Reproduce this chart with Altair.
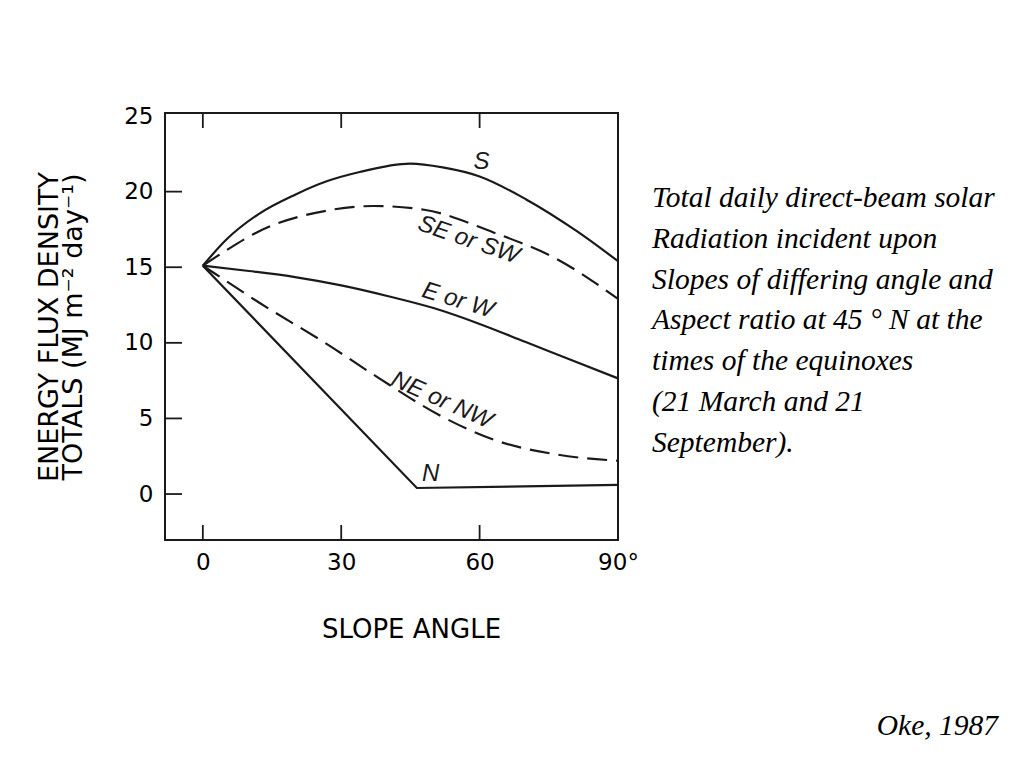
import altair as alt
import pandas as pd

# ---- data ----
slope_S = [0, 5, 12, 20, 27, 34, 45, 52, 60, 70, 81, 90]
flux_S = [15.1, 16.8, 18.5, 19.8, 20.7, 21.3, 21.85, 21.6, 21.0, 19.5, 17.4, 15.4]
slope_SE = [0, 5, 12, 27, 37, 48, 63, 77, 90]
flux_SE = [15.1, 16.1, 17.35, 18.75, 19.05, 18.8, 17.3, 15.5, 12.9]
slope_E = [0, 10, 20, 30, 40, 50, 60, 70, 80, 90]
flux_E = [15.1, 14.75, 14.35, 13.8, 13.1, 12.3, 11.25, 10.05, 8.85, 7.65]
slope_NE = [0, 5, 12, 27, 38, 52, 63, 77, 90]
flux_NE = [15.1, 14.1, 12.7, 9.9, 7.7, 5.1, 3.6, 2.6, 2.2]
slope_N = [0, 46.4, 90]
flux_N = [15.1, 0.4, 0.6]

label_text = ["S", "SE or SW", "E or W", "NE or NW", "N"]
label_x = [60.4, 57.6, 55.3, 51.8, 49.4]
label_y = [21.96, 16.8, 12.8, 6.2, 1.3]
label_angle = [0, 19, 17, 24, 0]

x_ticks = [0, 30, 60, 90]
y_ticks = [0, 5, 10, 15, 20, 25]
inner_x_ticks = [0, 30, 60]
inner_y_ticks = [0, 5, 10, 15, 20]

caption = ("Total daily direct-beam solar\nRadiation incident upon\n"
           "Slopes of differing angle and\nAspect ratio at 45 \u00b0 N at the\n"
           "times of the equinoxes\n(21 March and 21\nSeptember).")
source = "Oke, 1987"

INK = "#1a1a1a"
W, H = 453, 427

xs = alt.Scale(domain=[-8.2, 90], nice=False, zero=False)
ys = alt.Scale(domain=[-3.04, 25.2], nice=False, zero=False)


def series(xv, yv):
    return pd.DataFrame({"slope": xv, "flux": yv})


x_axis = alt.Axis(values=x_ticks, ticks=False, domain=False, grid=False,
                  labelExpr="datum.value == 90 ? '90\u00b0' : datum.label",
                  labelFont="DejaVu Sans", labelFontSize=23, labelColor="black",
                  labelPadding=11, labelFlush=False, title="SLOPE ANGLE",
                  titleFont="DejaVu Sans", titleFontSize=26, titleFontWeight="normal",
                  titleColor="black", titleX=246, titleY=97, titleBaseline="alphabetic",
                  titleAlign="center")
y_axis = alt.Axis(values=y_ticks, ticks=False, domain=False, grid=False,
                  labelFont="DejaVu Sans", labelFontSize=23, labelColor="black",
                  labelPadding=12, labelFlush=False,
                  title=["ENERGY FLUX DENSITY", "TOTALS (MJ m\u207b\u00b2 day\u207b\u00b9)"],
                  titleFont="DejaVu Sans", titleFontSize=27, titleFontWeight="normal",
                  titleColor="black", titleX=-102, titleY=213.5, titleAngle=270,
                  titleBaseline="bottom", titleAlign="center", titleLineHeight=24)

base_x = alt.X("slope:Q", scale=xs, axis=x_axis)
base_y = alt.Y("flux:Q", scale=ys, axis=y_axis)

s_line = alt.Chart(series(slope_S, flux_S)).mark_line(
    interpolate="monotone", color=INK, strokeWidth=2.2).encode(x=base_x, y=base_y)
se_line = alt.Chart(series(slope_SE, flux_SE)).mark_line(
    interpolate="monotone", color=INK, strokeWidth=2.2, strokeDash=[20, 9]).encode(x=base_x, y=base_y)
e_line = alt.Chart(series(slope_E, flux_E)).mark_line(
    interpolate="monotone", color=INK, strokeWidth=2.2).encode(x=base_x, y=base_y)
ne_line = alt.Chart(series(slope_NE, flux_NE)).mark_line(
    interpolate="monotone", color=INK, strokeWidth=2.2, strokeDash=[20, 9]).encode(x=base_x, y=base_y)
n_line = alt.Chart(series(slope_N, flux_N)).mark_line(
    interpolate="linear", color=INK, strokeWidth=2.2).encode(x=base_x, y=base_y)

labels = alt.Chart(pd.DataFrame({"t": label_text, "slope": label_x, "flux": label_y,
                                 "ang": label_angle})).mark_text(
    font="Liberation Sans", fontStyle="italic", fontSize=24, color=INK,
    align="center", baseline="middle").encode(
    x=base_x, y=base_y, text="t:N", angle=alt.Angle("ang:Q", scale=None))

ytick_rules = alt.Chart(pd.DataFrame({"flux": inner_y_ticks})).mark_rule(
    color=INK, strokeWidth=1.8).encode(y=base_y, x=alt.value(0), x2=alt.value(17))
xtick_top = alt.Chart(pd.DataFrame({"slope": inner_x_ticks})).mark_rule(
    color=INK, strokeWidth=1.8).encode(x=base_x, y=alt.value(0), y2=alt.value(15))
xtick_bot = alt.Chart(pd.DataFrame({"slope": inner_x_ticks})).mark_rule(
    color=INK, strokeWidth=1.8).encode(x=base_x, y=alt.value(H - 15), y2=alt.value(H))

cap = alt.Chart(pd.DataFrame({"t": [caption]})).mark_text(
    font="Liberation Serif", fontStyle="italic", fontSize=29.5, color="black",
    align="left", baseline="alphabetic", lineBreak="\n", lineHeight=40.8).encode(
    x=alt.value(487), y=alt.value(94), text="t:N")
src = alt.Chart(pd.DataFrame({"t": [source]})).mark_text(
    font="Liberation Serif", fontStyle="italic", fontSize=29.5, color="black",
    align="right", baseline="alphabetic").encode(
    x=alt.value(833), y=alt.value(622), text="t:N")

chart = alt.layer(
    s_line, se_line, e_line, ne_line, n_line, labels,
    ytick_rules, xtick_top, xtick_bot, cap, src
).properties(
    width=W, height=H,
    autosize=alt.AutoSizeParams(type="none"),
    padding={"left": 157, "top": 105, "right": 398, "bottom": 210},
    background="white",
).configure_view(stroke=INK, strokeWidth=2)

chart.save("out.html", embed_options={"renderer": "svg", "actions": False})
